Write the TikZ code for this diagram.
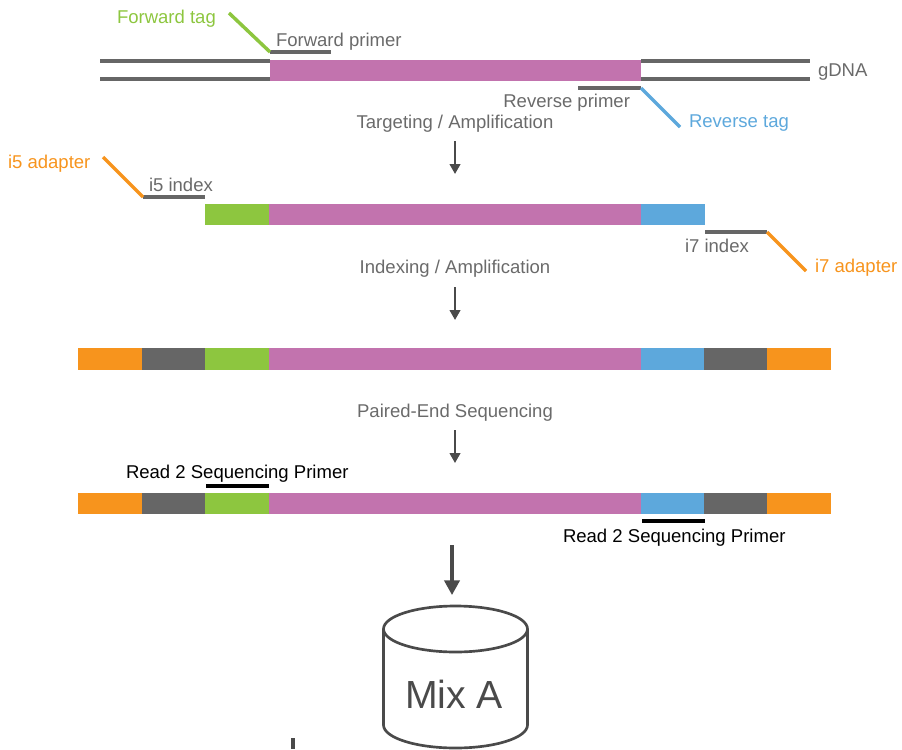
\documentclass[tikz,border=0pt]{standalone}
\usepackage{fontspec}
\setmainfont{Liberation Sans}
\usetikzlibrary{arrows.meta}
\definecolor{cmag}{HTML}{C273AE}
\definecolor{cgreen}{HTML}{8DC63F}
\definecolor{cblue}{HTML}{5DA8DC}
\definecolor{corange}{HTML}{F7941D}
\definecolor{cgray}{HTML}{666666}
\definecolor{ctext}{HTML}{6A6A6A}
\definecolor{cdark}{HTML}{4A4A4A}
\newcommand{\seg}[6]{\node[seg, fill=#6, minimum width={(#3-#2)*0.75pt}, minimum height={(#5-#4)*0.75pt}] (#1) at (#2,#4) {};}
\begin{document}
\begin{tikzpicture}[x=0.75pt,y=-0.75pt,
  lbl/.style={font=\fontsize{13.9}{16}\selectfont, text=ctext, inner sep=0pt, outer sep=0pt},
  seg/.style={inner sep=0pt, outer sep=0pt, anchor=north west, draw=none},
  strand/.style={draw=cgray, line width=2.6pt},
  tagline/.style={line width=2.6pt},
  readline/.style={draw=black, line width=2.6pt},
  smallarrow/.style={draw=cdark, line width=1.6pt, -{Triangle[width=8pt,length=7.5pt]}},
  bigarrow/.style={draw=cdark, line width=2.3pt, -{Triangle[width=11.5pt,length=11pt]}}]
\useasboundingbox (0,0) rectangle (902,749);

% ---- Row 1: gDNA ----
\seg{r1m}{270}{641}{60}{81}{cmag}
\coordinate (gl1) at (100,61);
\coordinate (gl2) at (100,79);
\coordinate (gr1) at (810,61);
\coordinate (gr2) at (810,79);
\coordinate (gm1) at (270,61);
\coordinate (gm2) at (270,79);
\coordinate (gn1) at (641,61);
\coordinate (gn2) at (641,79);
\draw[strand] (gl1) -- (gm1);
\draw[strand] (gl2) -- (gm2);
\draw[strand] (gn1) -- (gr1);
\draw[strand] (gn2) -- (gr2);
\node[lbl, anchor=base west] (gdna) at (818,76) {gDNA};

% forward primer / tag
\coordinate (fps) at (270,52);
\coordinate (fpe) at (331,52);
\coordinate (fte) at (229,13);
\draw[strand] (fps) -- (fpe);
\draw[tagline, draw=cgreen] (fte) -- (fps);
\node[lbl, text=cgreen, anchor=base west] (ftag) at (117,24) {Forward tag};
\node[lbl, anchor=base west] (fprim) at (276,46) {Forward primer};

% reverse primer / tag
\coordinate (rps) at (578,88);
\coordinate (rpe) at (641,88);
\coordinate (rte) at (680,127);
\draw[strand] (rps) -- (rpe);
\draw[tagline, draw=cblue] (rpe) -- (rte);
\node[lbl, anchor=base east] (rprim) at (630,108) {Reverse primer};
\node[lbl, text=cblue, anchor=base west] (rtag) at (689,127) {Reverse tag};

\node[lbl, anchor=base] (step1) at (455,128) {Targeting / Amplification};
\coordinate (a1s) at (455,141);
\coordinate (a1e) at (455,174);
\draw[smallarrow] (a1s) -- (a1e);

% ---- Row 2 ----
\seg{r2g}{205}{269}{204}{225}{cgreen}
\seg{r2m}{269}{641}{204}{225}{cmag}
\seg{r2b}{641}{705}{204}{225}{cblue}
\coordinate (i5s) at (143,197);
\coordinate (i5e) at (205,197);
\coordinate (i5a) at (103,157);
\draw[strand] (i5s) -- (i5e);
\draw[tagline, draw=corange] (i5a) -- (i5s);
\node[lbl, text=corange, anchor=base west] (i5ad) at (8,168) {i5 adapter};
\node[lbl, anchor=base west] (i5ix) at (149,191) {i5 index};

\coordinate (i7s) at (705,232);
\coordinate (i7e) at (767,232);
\coordinate (i7a) at (806,271);
\draw[strand] (i7s) -- (i7e);
\draw[tagline, draw=corange] (i7e) -- (i7a);
\node[lbl, anchor=base west] (i7ix) at (685,252) {i7 index};
\node[lbl, text=corange, anchor=base west] (i7ad) at (815,272) {i7 adapter};

\node[lbl, anchor=base] (step2) at (455,273) {Indexing / Amplification};
\coordinate (a2s) at (455,287);
\coordinate (a2e) at (455,320);
\draw[smallarrow] (a2s) -- (a2e);

% ---- Row 3 ----
\seg{r3o1}{78}{142}{348}{370}{corange}
\seg{r3k1}{142}{205}{348}{370}{cgray}
\seg{r3g}{205}{269}{348}{370}{cgreen}
\seg{r3m}{269}{641}{348}{370}{cmag}
\seg{r3b}{641}{704}{348}{370}{cblue}
\seg{r3k2}{704}{767}{348}{370}{cgray}
\seg{r3o2}{767}{831}{348}{370}{corange}

\node[lbl, anchor=base] (step3) at (455,417) {Paired-End Sequencing};
\coordinate (a3s) at (455,430);
\coordinate (a3e) at (455,463);
\draw[smallarrow] (a3s) -- (a3e);

% ---- Row 4 ----
\seg{r4o1}{78}{142}{493}{514}{corange}
\seg{r4k1}{142}{205}{493}{514}{cgray}
\seg{r4g}{205}{269}{493}{514}{cgreen}
\seg{r4m}{269}{641}{493}{514}{cmag}
\seg{r4b}{641}{704}{493}{514}{cblue}
\seg{r4k2}{704}{767}{493}{514}{cgray}
\seg{r4o2}{767}{831}{493}{514}{corange}

\coordinate (rd1s) at (206,486);
\coordinate (rd1e) at (269,486);
\draw[readline] (rd1s) -- (rd1e);
\node[lbl, text=black, anchor=base west] (rd1) at (126,478) {Read 2 Sequencing Primer};
\coordinate (rd2s) at (642,521);
\coordinate (rd2e) at (705,521);
\draw[readline] (rd2s) -- (rd2e);
\node[lbl, text=black, anchor=base west] (rd2) at (563,542) {Read 2 Sequencing Primer};

% ---- Mix A cylinder ----
\coordinate (a4s) at (452,545);
\coordinate (cyltop) at (452,595);
\draw[bigarrow] (a4s) -- (cyltop);
\draw[draw=cdark, line width=2pt] (455.5,629) ellipse [x radius=72, y radius=23];
\draw[draw=cdark, line width=2pt] (383.5,629) -- (383.5,725)
   arc[start angle=180, end angle=0, x radius=72, y radius=23] -- (527.5,629);
\node[font=\fontsize{29.4}{34}\selectfont, text=cdark, anchor=base, inner sep=0pt] (mix) at (454,708) {Mix A};

\coordinate (m1) at (293,738);
\coordinate (m2) at (293,749);
\draw[draw=cdark, line width=3.5pt] (m1) -- (m2);
\end{tikzpicture}
\end{document}
